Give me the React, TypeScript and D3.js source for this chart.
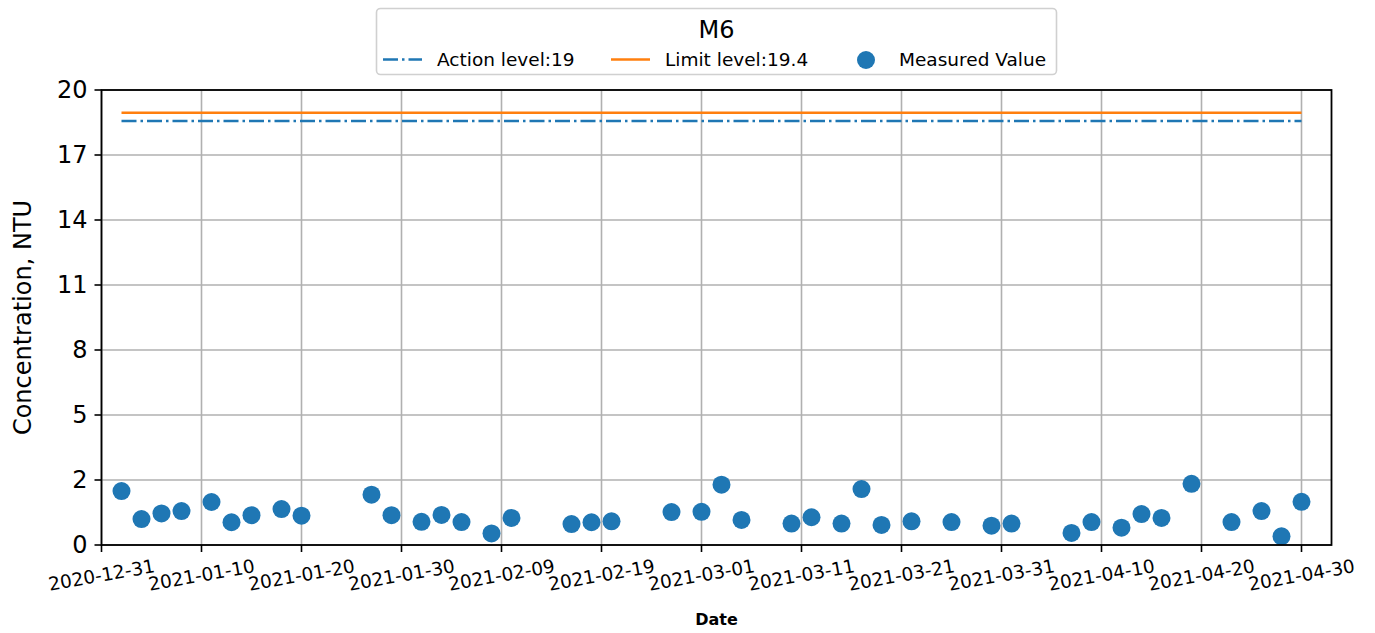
import React from "react";
import * as d3 from "d3";

const measuredDates: string[] = [
  "2021-01-02", "2021-01-04", "2021-01-06", "2021-01-08", "2021-01-11", "2021-01-13",
  "2021-01-15", "2021-01-18", "2021-01-20", "2021-01-27", "2021-01-29", "2021-02-01",
  "2021-02-03", "2021-02-05", "2021-02-08", "2021-02-10", "2021-02-16", "2021-02-18",
  "2021-02-20", "2021-02-26", "2021-03-01", "2021-03-03", "2021-03-05", "2021-03-10",
  "2021-03-12", "2021-03-15", "2021-03-17", "2021-03-19", "2021-03-22", "2021-03-26",
  "2021-03-30", "2021-04-01", "2021-04-07", "2021-04-09", "2021-04-12", "2021-04-14",
  "2021-04-16", "2021-04-19", "2021-04-23", "2021-04-26", "2021-04-28", "2021-04-30",
];
const measuredValues: number[] = [
  2.37, 1.14, 1.39, 1.49, 1.89, 1.0,
  1.31, 1.58, 1.29, 2.21, 1.31, 1.02,
  1.32, 1.01, 0.51, 1.19, 0.92, 1.0,
  1.04, 1.45, 1.46, 2.65, 1.1, 0.94,
  1.22, 0.94, 2.46, 0.88, 1.04, 1.01,
  0.85, 0.94, 0.53, 1.01, 0.76, 1.36,
  1.19, 2.69, 1.01, 1.49, 0.38, 1.9,
];
const levelDates: string[] = ["2021-01-02", "2021-04-30"];
const actionLevelDrawn = 18.64;
const limitLevelDrawn = 19.0;
const legendLabels: string[] = ["Action level:19", "Limit level:19.4", "Measured Value"];
const xTickDates: string[] = [
  "2020-12-31", "2021-01-10", "2021-01-20", "2021-01-30", "2021-02-09", "2021-02-19",
  "2021-03-01", "2021-03-11", "2021-03-21", "2021-03-31", "2021-04-10", "2021-04-20", "2021-04-30",
];
const yTickValues: number[] = d3.range(8).map((i) => (20 * i) / 7);
const xDomain: string[] = ["2020-12-31", "2021-05-03"];
const yDomain: number[] = [0, 20];

const BLUE = "#1f77b4";
const ORANGE = "#ff7f0e";
const FONT = "'DejaVu Sans', sans-serif";

export default function App() {
  const W = 1375, H = 633;
  const left = 101.5, right = 1331.5, top = 90, bottom = 545;
  const parse = (s: string) => new Date(s + "T00:00:00Z");
  const x = d3.scaleUtc().domain(xDomain.map(parse)).range([left, right]);
  const y = d3.scaleLinear().domain(yDomain).range([bottom, top]);
  const line = d3
    .line<[Date, number]>()
    .x((d) => x(d[0]))
    .y((d) => y(d[1]));
  const actionData: [Date, number][] = levelDates.map((d) => [parse(d), actionLevelDrawn]);
  const limitData: [Date, number][] = levelDates.map((d) => [parse(d), limitLevelDrawn]);
  const fmt = d3.utcFormat("%Y-%m-%d");

  return (
    <svg width={W} height={H} style={{ position: "absolute", left: 0, top: 0, background: "#fff" }} fontFamily={FONT}>
      <rect x={0} y={0} width={W} height={H} fill="#fff" />
      {/* grid */}
      {xTickDates.map((d) => (
        <line key={"gx" + d} x1={x(parse(d))} x2={x(parse(d))} y1={top} y2={bottom} stroke="#b0b0b0" strokeWidth={1.6} />
      ))}
      {yTickValues.map((v) => (
        <line key={"gy" + v} x1={left} x2={right} y1={y(v)} y2={y(v)} stroke="#b0b0b0" strokeWidth={1.6} />
      ))}
      {/* level lines */}
      <path d={line(limitData) || ""} fill="none" stroke={ORANGE} strokeWidth={2.5} />
      <path d={line(actionData) || ""} fill="none" stroke={BLUE} strokeWidth={2.5} strokeDasharray="15,4,2.5,4" />
      {/* points */}
      {measuredDates.map((d, i) => (
        <circle key={"p" + i} cx={x(parse(d))} cy={y(measuredValues[i])} r={9} fill={BLUE} />
      ))}
      {/* frame */}
      <rect x={left} y={top} width={right - left} height={bottom - top} fill="none" stroke="#000" strokeWidth={1.8} />
      {/* x ticks */}
      {xTickDates.map((d) => {
        const px = x(parse(d));
        return (
          <g key={"xt" + d}>
            <line x1={px} x2={px} y1={bottom} y2={bottom + 7} stroke="#000" strokeWidth={1.6} />
            <text
              transform={`translate(${px},${bottom + 30}) rotate(-10)`}
              textAnchor="middle"
              dominantBaseline="central"
              fontSize={18.5}
              fill="#000"
            >
              {fmt(parse(d))}
            </text>
          </g>
        );
      })}
      {/* y ticks */}
      {yTickValues.map((v) => (
        <g key={"yt" + v}>
          <line x1={left - 7} x2={left} y1={y(v)} y2={y(v)} stroke="#000" strokeWidth={1.6} />
          <text x={left - 14} y={y(v)} textAnchor="end" dominantBaseline="central" fontSize={24} fill="#000">
            {Math.floor(v + 1e-9)}
          </text>
        </g>
      ))}
      {/* axis labels */}
      <text
        transform={`translate(23,${(top + bottom) / 2}) rotate(-90)`}
        textAnchor="middle"
        dominantBaseline="central"
        fontSize={24}
        fill="#000"
      >
        Concentration, NTU
      </text>
      <text x={(left + right) / 2} y={619} textAnchor="middle" dominantBaseline="central" fontSize={16} fontWeight="bold" fill="#000">
        Date
      </text>
      {/* legend */}
      <g>
        <rect x={376.5} y={8.5} width={680} height={66} rx={4} fill="#fff" fillOpacity={0.8} stroke="#d0d0d0" strokeWidth={1.6} />
        <text x={716.5} y={30} textAnchor="middle" dominantBaseline="central" fontSize={24} fill="#000">
          M6
        </text>
        <line x1={383} x2={422} y1={59.5} y2={59.5} stroke={BLUE} strokeWidth={2.5} strokeDasharray="15,4,2.5,4" />
        <text x={437} y={59.5} dominantBaseline="central" fontSize={18.5} fill="#000">
          {legendLabels[0]}
        </text>
        <line x1={611} x2={650} y1={59.5} y2={59.5} stroke={ORANGE} strokeWidth={2.5} />
        <text x={665} y={59.5} dominantBaseline="central" fontSize={18.5} fill="#000">
          {legendLabels[1]}
        </text>
        <circle cx={866} cy={60} r={9} fill={BLUE} />
        <text x={899} y={59.5} dominantBaseline="central" fontSize={18.5} fill="#000">
          {legendLabels[2]}
        </text>
      </g>
    </svg>
  );
}
